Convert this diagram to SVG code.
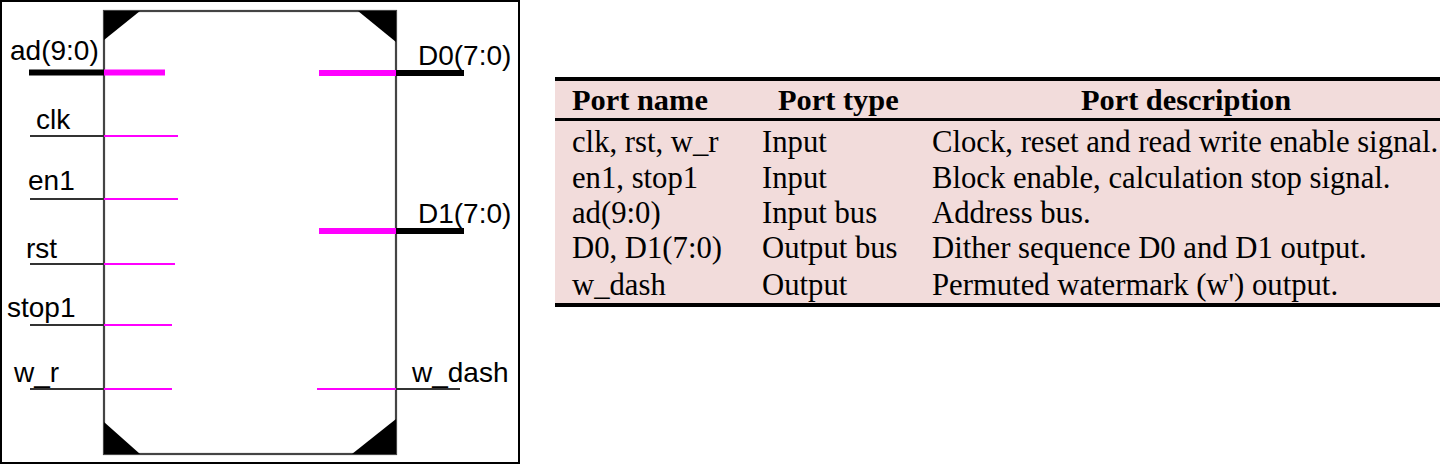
<svg xmlns="http://www.w3.org/2000/svg" width="1442" height="465" viewBox="0 0 1442 465">
<style>
.lbl{font-family:"Liberation Sans",Arial,sans-serif;font-size:28px;fill:#000}
.wire{stroke:#333;stroke-width:2.2;fill:none}
.pin{stroke:#ff00ff;stroke-width:2;fill:none}
.bus{stroke:#000;stroke-width:6;fill:none}
.busp{stroke:#ff00ff;stroke-width:6;fill:none}
.body{stroke:#444;stroke-width:2.2;fill:#fff}
.tri{fill:#000}
.th{font-family:"Liberation Serif","Times New Roman",serif;font-size:30.4px;font-weight:bold;fill:#000}
.td{font-family:"Liberation Serif","Times New Roman",serif;font-size:30.7px;fill:#000}
.rule{stroke:#000;fill:none}
</style>
<rect x="1" y="1" width="518" height="462" fill="#fff" stroke="#000" stroke-width="2"/>
<g id="chip">
<rect class="body" x="104" y="11" width="292" height="443"/>
<polygon class="tri" points="104,11 140,11 104,40"/>
<polygon class="tri" points="358,11 396,11 396,42"/>
<polygon class="tri" points="104,422 104,454 140,454"/>
<polygon class="tri" points="352,454 396,454 396,419"/>
</g>
<g id="connectors">
<g id="port-ad">
<line class="bus" x1="29" y1="72.5" x2="104" y2="72.5"/>
<line class="busp" x1="104" y1="72.5" x2="165" y2="72.5"/>
<text class="lbl" x="10" y="60">ad(9:0)</text>
</g>
<g id="port-clk">
<line class="wire" x1="30" y1="136" x2="104" y2="136"/>
<line class="pin" x1="104" y1="136" x2="178" y2="136"/>
<text class="lbl" x="36" y="129">clk</text>
</g>
<g id="port-en1">
<line class="wire" x1="30" y1="199" x2="104" y2="199"/>
<line class="pin" x1="104" y1="199" x2="178" y2="199"/>
<text class="lbl" x="28" y="190">en1</text>
</g>
<g id="port-rst">
<line class="wire" x1="30" y1="264" x2="104" y2="264"/>
<line class="pin" x1="104" y1="264" x2="175" y2="264"/>
<text class="lbl" x="26" y="258">rst</text>
</g>
<g id="port-stop1">
<line class="wire" x1="30" y1="325" x2="104" y2="325"/>
<line class="pin" x1="104" y1="325" x2="172" y2="325"/>
<text class="lbl" x="7" y="317">stop1</text>
</g>
<g id="port-w_r">
<line class="wire" x1="30" y1="389" x2="104" y2="389"/>
<line class="pin" x1="104" y1="389" x2="172" y2="389"/>
<text class="lbl" x="14" y="382">w_r</text>
</g>
<g id="port-D0">
<line class="busp" x1="319" y1="73" x2="396" y2="73"/>
<line class="bus" x1="396" y1="73" x2="464" y2="73"/>
<text class="lbl" x="418" y="65">D0(7:0)</text>
</g>
<g id="port-D1">
<line class="busp" x1="319" y1="231" x2="396" y2="231"/>
<line class="bus" x1="396" y1="231" x2="464" y2="231"/>
<text class="lbl" x="418" y="223">D1(7:0)</text>
</g>
<g id="port-w_dash">
<line class="pin" x1="317" y1="389" x2="396" y2="389"/>
<line class="wire" x1="396" y1="389" x2="460" y2="389"/>
<text class="lbl" x="412" y="382">w_dash</text>
</g>
</g>
<g id="table">
<rect x="555" y="79" width="885" height="226" fill="#f2dcdb"/>
<line class="rule" x1="555" y1="79" x2="1440" y2="79" stroke-width="4"/>
<line class="rule" x1="555" y1="119.5" x2="1440" y2="119.5" stroke-width="3"/>
<line class="rule" x1="555" y1="305" x2="1440" y2="305" stroke-width="4"/>
<text class="th" x="572" y="110">Port name</text>
<text class="th" x="778" y="110">Port type</text>
<text class="th" x="1186" y="110" text-anchor="middle">Port description</text>
<text class="td" x="572" y="152">clk, rst, w_r</text>
<text class="td" x="762" y="152">Input</text>
<text class="td" x="932" y="152">Clock, reset and read write enable signal.</text>
<text class="td" x="572" y="188">en1, stop1</text>
<text class="td" x="762" y="188">Input</text>
<text class="td" x="932" y="188">Block enable, calculation stop signal.</text>
<text class="td" x="572" y="223">ad(9:0)</text>
<text class="td" x="762" y="223">Input bus</text>
<text class="td" x="932" y="223">Address bus.</text>
<text class="td" x="572" y="258">D0, D1(7:0)</text>
<text class="td" x="762" y="258">Output bus</text>
<text class="td" x="932" y="258">Dither sequence D0 and D1 output.</text>
<text class="td" x="572" y="295">w_dash</text>
<text class="td" x="762" y="295">Output</text>
<text class="td" x="932" y="295">Permuted watermark (w') output.</text>
</g>
</svg>
